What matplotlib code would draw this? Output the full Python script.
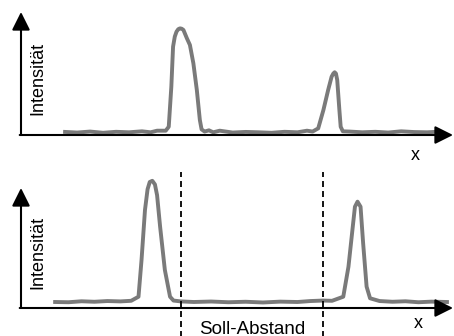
import matplotlib
matplotlib.use('Agg')
import matplotlib.pyplot as plt

plt.rcParams['font.family'] = ['Liberation Sans', 'DejaVu Sans']
plt.rcParams['lines.scale_dashes'] = False

# ---------------------------------------------------------------------------
# Data (position x in arbitrary units 0..100, intensity in arbitrary units)
# ---------------------------------------------------------------------------

top_x = [10.2, 13.0, 16.0, 19.0, 22.0, 25.0, 28.0, 30.0, 31.5, 33.5,
         34.2, 34.8, 35.2, 35.6, 36.0, 36.4, 36.8, 37.2, 37.6, 38.4,
         39.1, 39.9, 40.7, 41.4, 41.8, 42.5, 43.5, 44.5, 46.0, 49.0,
         52.0, 55.0, 58.0, 61.0, 64.0, 66.2, 67.5, 68.8, 70.0, 71.1,
         71.9, 72.3, 72.6, 72.9, 73.2, 73.7, 74.0, 74.5, 76.0, 79.0,
         82.0, 85.0, 88.0, 91.0, 94.0, 96.3]
top_y = [0.025, 0.020, 0.028, 0.018, 0.026, 0.022, 0.030, 0.022, 0.035, 0.035,
         0.067, 0.393, 0.718, 0.800, 0.840, 0.860, 0.867, 0.864, 0.854, 0.786,
         0.732, 0.583, 0.366, 0.122, 0.046, 0.028, 0.038, 0.022, 0.035, 0.020,
         0.025, 0.022, 0.018, 0.026, 0.022, 0.035, 0.028, 0.054, 0.203, 0.366,
         0.474, 0.500, 0.510, 0.500, 0.447, 0.203, 0.067, 0.030, 0.028, 0.022,
         0.026, 0.020, 0.030, 0.024, 0.022, 0.026]

bot_x = [7.9, 11.0, 14.0, 17.0, 20.0, 23.0, 25.5, 27.2, 27.9, 28.7,
         29.3, 29.8, 30.4, 31.0, 31.5, 32.2, 33.3, 34.5, 35.3, 37.0,
         40.0, 44.0, 48.0, 52.0, 56.0, 60.0, 64.0, 67.0, 69.9, 72.0,
         74.6, 75.8, 76.8, 77.3, 77.9, 78.6, 79.2, 80.0, 80.8, 83.0,
         86.0, 89.0, 92.0, 95.0, 98.6]
bot_y = [0.050, 0.048, 0.056, 0.052, 0.058, 0.055, 0.060, 0.094, 0.400, 0.817,
         0.990, 1.050, 1.060, 1.030, 0.940, 0.678, 0.317, 0.094, 0.062, 0.055,
         0.050, 0.054, 0.048, 0.052, 0.046, 0.053, 0.050, 0.058, 0.062, 0.060,
         0.094, 0.344, 0.678, 0.844, 0.886, 0.844, 0.539, 0.178, 0.081, 0.058,
         0.052, 0.056, 0.048, 0.053, 0.050]

soll_marks = [37.0, 69.9]   # nominal peak distance (bottom panel)

CURVE_COLOR = '#7a7a7a'
W, H = 454, 336


def panel(fig, origin_py, height_px):
    ax = fig.add_axes([21 / W, (H - origin_py) / H, 432 / W, height_px / H])
    ax.set_xlim(0, 100)
    ax.set_ylim(0, 1)
    ax.axis('off')
    arrow = dict(arrowstyle='-|>,head_length=1.1,head_width=0.55',
                 lw=1.5, color='black', shrinkA=0, shrinkB=0)
    ax.annotate('', xy=(0, 1), xytext=(0, 0), arrowprops=arrow,
                annotation_clip=False)
    ax.annotate('', xy=(100, 0), xytext=(-0.3, 0), arrowprops=arrow,
                annotation_clip=False)
    ax.text(3.9, 0.46, 'Intensität', rotation=90, ha='center', va='center',
            fontsize=13)
    return ax


fig = plt.figure(figsize=(W / 100, H / 100), dpi=100)

ax1 = panel(fig, 135, 123)
ax1.plot(top_x, top_y, color=CURVE_COLOR, lw=2.8, clip_on=False,
         solid_joinstyle='round', zorder=1)
ax1.text(91.2, -0.165, 'x', ha='center', va='center', fontsize=13)

ax2 = panel(fig, 308, 120)
ax2.plot(bot_x, bot_y, color=CURVE_COLOR, lw=2.8, clip_on=False,
         solid_joinstyle='round', zorder=1)
for xm in soll_marks:
    ax2.plot([xm, xm], [-0.25, 1.13], color='black', lw=1.3,
             dashes=(4.3, 2.9), clip_on=False)
ax2.text(sum(soll_marks) / 2, -0.175, 'Soll-Abstand', ha='center', va='center',
         fontsize=13.5)
ax2.text(91.9, -0.125, 'x', ha='center', va='center', fontsize=13)

fig.savefig('out.png', dpi=100)
